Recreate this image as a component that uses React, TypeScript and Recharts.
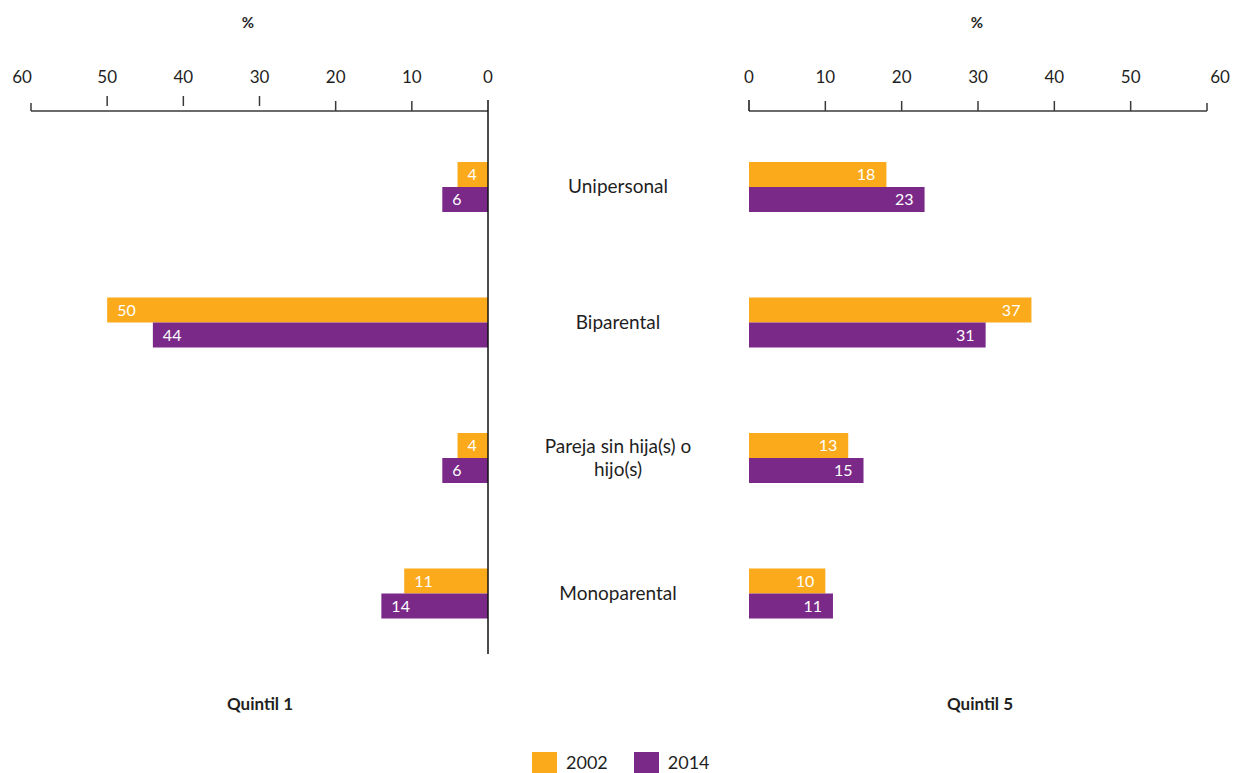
import { BarChart, Bar, XAxis, YAxis, LabelList } from "recharts";

const ORANGE = "#FAAA1B";
const PURPLE = "#7A2989";
const INK = "#1f1f1f";
const AXIS = "#3a3a3a";
const FONT = "Lato, 'Open Sans', sans-serif";

// household types (top to bottom)
const categories = [
  "Unipersonal",
  "Biparental",
  "Pareja sin hija(s) o hijo(s)",
  "Monoparental",
];

// Quintil 1
const q1Year2002 = [4, 50, 4, 11];
const q1Year2014 = [6, 44, 6, 14];

// Quintil 5
const q5Year2002 = [18, 37, 13, 10];
const q5Year2014 = [23, 31, 15, 11];

const axisTicks = [0, 10, 20, 30, 40, 50, 60];
const years = ["2002", "2014"];

const leftRows = categories.map((name, i) => ({ name, y2002: q1Year2002[i], y2014: q1Year2014[i] }));
const rightRows = categories.map((name, i) => ({ name, y2002: q5Year2002[i], y2014: q5Year2014[i] }));

// break a label into lines of at most `max` characters
function wrapWords(label: string, max: number) {
  const lines: string[] = [];
  let cur = "";
  for (const w of label.split(" ")) {
    const next = cur ? cur + " " + w : w;
    if (next.length > max && cur) {
      lines.push(cur);
      cur = w;
    } else {
      cur = next;
    }
  }
  if (cur) lines.push(cur);
  return lines;
}

// value axis tick: draws its own tick mark plus the number above it
function ValueTick(props: any) {
  const { x, y, payload, side } = props;
  const v = payload.value;
  let y1 = y - 10;
  let y2 = y;
  if (v === 60) y1 = y - 8;
  if (v === 0) y1 = y - 11;
  if (side === "left" && v >= 30 && v <= 50) {
    y1 = y - 15;
    y2 = y - 5;
  }
  const dx = v === 60 ? (side === "left" ? -9 : 13) : 0;
  return (
    <g>
      <line x1={x} x2={x} y1={y1} y2={y2} stroke={v === 0 ? "#111" : AXIS} strokeWidth={1.5} />
      <text x={x + dx} y={y - 28} textAnchor="middle" fontSize={17} fill={INK} fontFamily={FONT}>
        {v}
      </text>
    </g>
  );
}

// category names sit in the gap between both panels
function CategoryTick(props: any) {
  const { x, y, payload } = props;
  const lines = wrapWords(String(payload.value), 21);
  const lh = 23;
  const first = y - ((lines.length - 1) * lh) / 2;
  return (
    <text x={x} textAnchor="middle" fontSize={19} fill={INK} fontFamily={FONT}>
      {lines.map((ln, i) => (
        <tspan key={i} x={x} y={first + i * lh} dy="0.35em">
          {ln}
        </tspan>
      ))}
    </text>
  );
}

function makeBarLabel(side: "left" | "right") {
  return (props: any) => {
    const vb = props.viewBox ?? props;
    const x0 = Math.min(vb.x, vb.x + vb.width);
    const x1 = Math.max(vb.x, vb.x + vb.width);
    const cy = vb.y + vb.height / 2;
    return (
      <text
        x={side === "left" ? x0 + 10 : x1 - 11}
        y={cy}
        dy="0.36em"
        textAnchor={side === "left" ? "start" : "end"}
        fontSize={16}
        fill="#fff"
        fontFamily={FONT}
      >
        {props.value}
      </text>
    );
  };
}

const overlay = (x: number, y: number, extra: any = {}): any => ({
  position: "absolute",
  left: x,
  top: y,
  transform: "translate(-50%, -50%)",
  color: INK,
  fontFamily: FONT,
  whiteSpace: "nowrap",
  ...extra,
});

export default function App() {
  return (
    <div style={{ position: "absolute", left: 0, top: 0, width: 1233, height: 773, overflow: "hidden", background: "#fff" }}>
      {/* Quintil 1: bars grow to the left */}
      <div style={{ position: "absolute", left: 0, top: 0 }}>
        <BarChart
          width={749}
          height={773}
          data={leftRows}
          layout="vertical"
          margin={{ top: 71, right: 0, bottom: 119, left: 31 }}
          barGap={0}
          barSize={25}
        >
          <XAxis
            type="number"
            orientation="top"
            domain={[0, 60]}
            ticks={axisTicks}
            interval={0}
            reversed
            height={40}
            tickLine={false}
            tickSize={0}
            tickMargin={0}
            axisLine={{ stroke: AXIS, strokeWidth: 1.5 }}
            tick={<ValueTick side="left" />}
          />
          <YAxis
            type="category"
            dataKey="name"
            orientation="right"
            width={261}
            padding={{ top: 8, bottom: -7 }}
            interval={0}
            tickLine={false}
            tickSize={0}
            tickMargin={130}
            axisLine={{ stroke: "#111", strokeWidth: 1.5 }}
            tick={<CategoryTick />}
          />
          <Bar dataKey="y2002" fill={ORANGE} isAnimationActive={false}>
            <LabelList dataKey="y2002" content={makeBarLabel("left")} />
          </Bar>
          <Bar dataKey="y2014" fill={PURPLE} isAnimationActive={false}>
            <LabelList dataKey="y2014" content={makeBarLabel("left")} />
          </Bar>
        </BarChart>
      </div>

      {/* Quintil 5: bars grow to the right */}
      <div style={{ position: "absolute", left: 740, top: 0 }}>
        <BarChart
          width={493}
          height={773}
          data={rightRows}
          layout="vertical"
          margin={{ top: 71, right: 26, bottom: 119, left: 9 }}
          barGap={0}
          barSize={25}
        >
          <XAxis
            type="number"
            orientation="top"
            domain={[0, 60]}
            ticks={axisTicks}
            interval={0}
            height={40}
            tickLine={false}
            tickSize={0}
            tickMargin={0}
            axisLine={{ stroke: AXIS, strokeWidth: 1.5 }}
            tick={<ValueTick side="right" />}
          />
          <YAxis
            type="category"
            dataKey="name"
            width={0}
            padding={{ top: 8, bottom: -7 }}
            tick={false}
            tickLine={false}
            axisLine={{ stroke: "#111", strokeWidth: 1.5 }}
          />
          <Bar dataKey="y2002" fill={ORANGE} isAnimationActive={false}>
            <LabelList dataKey="y2002" content={makeBarLabel("right")} />
          </Bar>
          <Bar dataKey="y2014" fill={PURPLE} isAnimationActive={false}>
            <LabelList dataKey="y2014" content={makeBarLabel("right")} />
          </Bar>
        </BarChart>
      </div>

      <div style={overlay(248, 22, { fontSize: 15, fontWeight: 700 })}>%</div>
      <div style={overlay(977, 22, { fontSize: 15, fontWeight: 700 })}>%</div>
      <div style={overlay(260, 703, { fontSize: 17, fontWeight: 700 })}>Quintil 1</div>
      <div style={overlay(980, 703, { fontSize: 17, fontWeight: 700 })}>Quintil 5</div>

      {/* legend */}
      <div style={{ position: "absolute", left: 532, top: 752, display: "flex", alignItems: "flex-start", fontFamily: FONT, fontSize: 18, color: INK }}>
        {years.map((yr, i) => (
          <div key={yr} style={{ display: "flex", alignItems: "flex-start", marginRight: 26 }}>
            <div style={{ width: 25, height: 25, background: i === 0 ? ORANGE : PURPLE, marginRight: 9 }} />
            <span style={{ lineHeight: "16px", display: "block", marginTop: 2 }}>{yr}</span>
          </div>
        ))}
      </div>
    </div>
  );
}
